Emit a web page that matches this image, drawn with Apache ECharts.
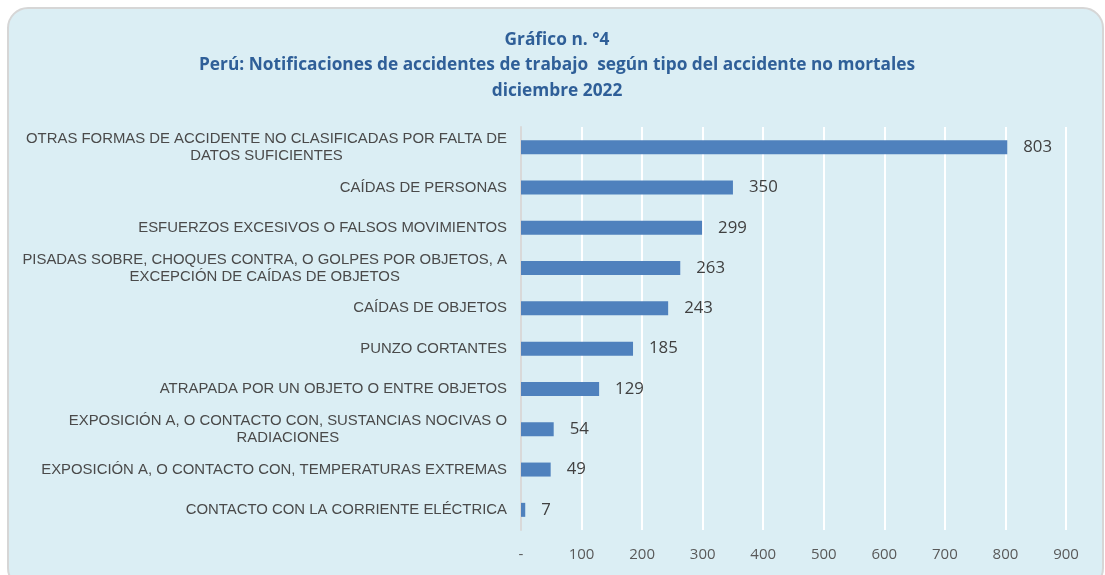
<!DOCTYPE html>
<html>
<head>
<meta charset="utf-8">
<script src="https://cdn.jsdelivr.net/npm/echarts@6/dist/echarts.min.js"></script>
<style>
  html, body { margin: 0; padding: 0; background: #fff; }
  #main { width: 1105px; height: 575px; }
</style>
</head>
<body>
<div id="main"></div>
<script>
// data, top to bottom as in the picture
const categories = [
  "OTRAS FORMAS DE ACCIDENTE NO CLASIFICADAS POR FALTA DE\nDATOS SUFICIENTES",
  "CAÍDAS DE PERSONAS",
  "ESFUERZOS EXCESIVOS O FALSOS MOVIMIENTOS",
  "PISADAS SOBRE, CHOQUES CONTRA, O GOLPES POR OBJETOS, A\nEXCEPCIÓN DE CAÍDAS DE OBJETOS",
  "CAÍDAS DE OBJETOS",
  "PUNZO CORTANTES",
  "ATRAPADA POR UN OBJETO O ENTRE OBJETOS",
  "EXPOSICIÓN A, O CONTACTO CON, SUSTANCIAS NOCIVAS O\nRADIACIONES",
  "EXPOSICIÓN A, O CONTACTO CON, TEMPERATURAS EXTREMAS",
  "CONTACTO CON LA CORRIENTE ELÉCTRICA"
];
const values = [803, 350, 299, 263, 243, 185, 129, 54, 49, 7];
const titleLines = ["Gráfico n. °4", "Perú: Notificaciones de accidentes de trabajo  según tipo del accidente no mortales", "diciembre 2022"];

const chart = echarts.init(document.getElementById('main'));

chart.setOption({
  backgroundColor: '#ffffff',
  animation: false,
  graphic: [{
    // rounded light-blue panel behind the chart
    type: 'rect',
    z: -10,
    shape: { x: 8, y: 8, width: 1095, height: 580, r: 20 },
    style: { fill: '#DBEEF4', stroke: '#D6D6D6', lineWidth: 2 }
  }],
  title: {
    text: titleLines.join('\n'),
    left: 552,
    top: 22,
    textAlign: 'center',
    textStyle: {
      fontFamily: 'Open Sans',
      fontSize: 17.3,
      fontWeight: 'bold',
      color: '#2F5F98',
      lineHeight: 25.5
    }
  },
  grid: { left: 521, right: 39, top: 127, bottom: 45, containLabel: false },
  xAxis: {
    type: 'value',
    min: 0,
    max: 900,
    interval: 100,
    axisLine: { show: false },
    axisTick: { show: false },
    splitLine: { lineStyle: { color: '#ffffff', width: 2 } },
    axisLabel: {
      margin: 17,
      fontFamily: 'Open Sans',
      fontSize: 15,
      color: '#595959',
      formatter: v => v === 0 ? '-' : String(v)
    }
  },
  yAxis: {
    type: 'category',
    inverse: true,
    data: categories,
    axisLine: { lineStyle: { color: '#D9D9D9', width: 2 } },
    axisTick: { show: false },
    axisLabel: {
      margin: 14,
      fontFamily: 'Liberation Sans',
      fontSize: 14.9,
      color: '#4A4A4A',
      //centre each line of a two-line label
      formatter: v => v.split('\n').map(s => '{c|' + s + '}').join('\n'),
      rich: { c: { align: 'center', fontFamily: 'Liberation Sans', fontSize: 14.9, color: '#4A4A4A', lineHeight: 17 } }
    }
  },
  series: [{
    type: 'bar',
    data: values,
    barWidth: 14,
    itemStyle: { color: '#4F81BD' },
    label: {
      show: true,
      position: 'right',
      distance: 16,
      fontFamily: 'Open Sans',
      fontSize: 16.8,
      color: '#404040'
    }
  }]
});
</script>
</body>
</html>
